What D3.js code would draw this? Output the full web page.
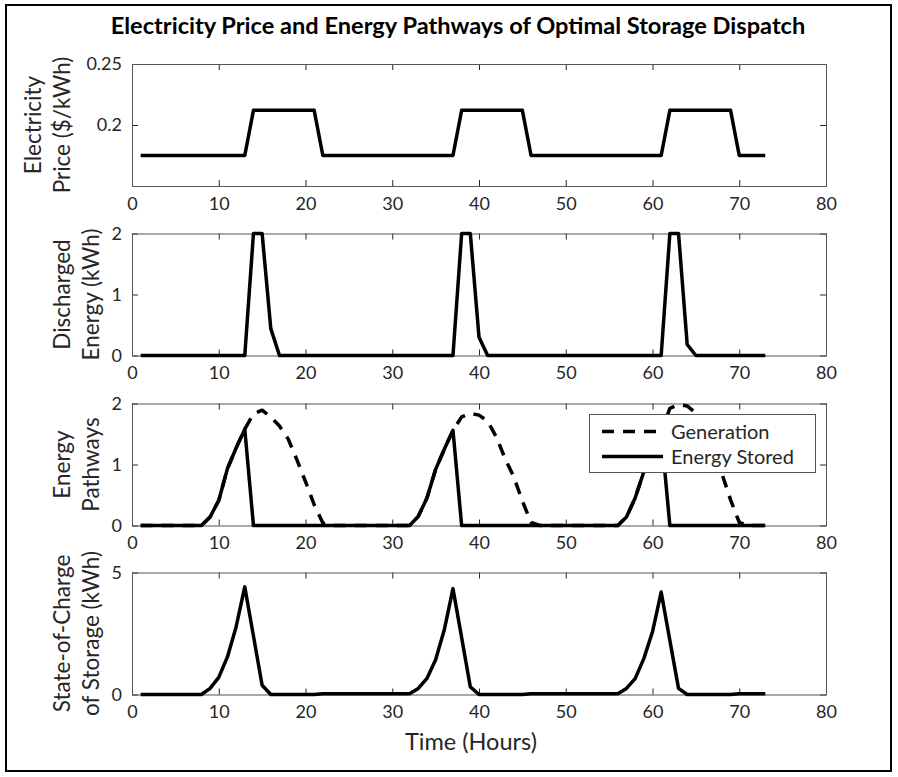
<!DOCTYPE html>
<html>
<head>
<meta charset="utf-8">
<script src="https://cdn.jsdelivr.net/npm/d3@7"></script>
<style>
  html, body { margin: 0; padding: 0; background: #fff; }
  svg text { font-family: Lato, "Open Sans", sans-serif; fill: #262626; }
</style>
</head>
<body>
<svg id="chart" width="898" height="777"></svg>
<script>
// Hour index of the simulation (1..73)
const hours = d3.range(1, 74);

// Electricity price ($/kWh)
const price = [
  0.175,0.175,0.175,0.175,0.175,0.175,0.175,0.175,0.175,0.175,0.175,0.175,0.175,
  0.212,0.212,0.212,0.212,0.212,0.212,0.212,0.212,
  0.175,0.175,0.175,0.175,0.175,0.175,0.175,0.175,0.175,0.175,0.175,0.175,0.175,0.175,0.175,0.175,
  0.212,0.212,0.212,0.212,0.212,0.212,0.212,0.212,
  0.175,0.175,0.175,0.175,0.175,0.175,0.175,0.175,0.175,0.175,0.175,0.175,0.175,0.175,0.175,0.175,
  0.212,0.212,0.212,0.212,0.212,0.212,0.212,0.212,
  0.175,0.175,0.175,0.175
];

// Energy discharged from storage (kWh)
const discharged = [
  0,0,0,0,0,0,0,0,0,0,0,0,0,
  2,2,0.44,
  0,0,0,0,0,0,0,0,0,0,0,0,0,0,0,0,0,0,0,0,0,
  2,2,0.3,
  0,0,0,0,0,0,0,0,0,0,0,0,0,0,0,0,0,0,0,0,0,
  2,2,0.18,
  0,0,0,0,0,0,0,0,0
];

// Solar generation (kWh)
const generation = [
  0,0,0,0,0,0,0,0,
  0.14,0.41,0.93,1.27,1.58,1.83,1.89,1.78,1.63,1.42,1.08,0.72,0.34,0.04,
  0,0,0,0,0,0,0,0,0,0,
  0.15,0.45,0.92,1.25,1.56,1.78,1.84,1.81,1.71,1.45,1.1,0.8,0.4,0.05,
  0,0,0,0,0,0,0,0,0,0,
  0.14,0.45,0.88,1.22,1.53,1.92,1.98,1.96,1.84,1.6,1.25,0.85,0.42,0.05,
  0,0,0
];

// Energy sent into storage (kWh)
const stored = [
  0,0,0,0,0,0,0,0,
  0.14,0.41,0.93,1.27,1.58,
  0,0,0,0,0,0,0,0,0,0,0,0,0,0,0,0,0,0,0,
  0.15,0.45,0.92,1.25,1.56,
  0,0,0,0,0,0,0,0,0,0,0,0,0,0,0,0,0,0,0,
  0.14,0.45,0.88,1.22,1.53,
  0,0,0,0,0,0,0,0,0,0,0,0
];

// Storage state of charge (kWh)
const stateOfCharge = [
  0,0,0,0,0,0,0,0,
  0.25,0.7,1.54,2.77,4.41,2.4,0.38,
  0,0,0,0,0,0,
  0.03,0.03,0.03,0.03,0.03,0.03,0.03,0.03,0.03,0.03,0.03,
  0.25,0.66,1.42,2.65,4.34,2.33,0.31,
  0,0,0,0,0,0,
  0.03,0.03,0.03,0.03,0.03,0.03,0.03,0.03,0.03,0.03,0.03,
  0.25,0.65,1.47,2.57,4.2,2.22,0.25,
  0,0,0,0,0,0,
  0.03,0.03,0.03,0.03
];

const xTicks = [0, 10, 20, 30, 40, 50, 60, 70, 80];
const priceTicks = [0.2, 0.25];
const priceTickLabels = ["0.2", "0.25"];
const dischargeTicks = [0, 1, 2];
const pathwayTicks = [0, 1, 2];
const socTicks = [0, 5];

const titleText = "Electricity Price and Energy Pathways of Optimal Storage Dispatch";
const xLabelText = "Time (Hours)";
const legendLabels = ["Generation", "Energy Stored"];

// ---------------------------------------------------------------
const svg = d3.select("#chart");
svg.append("rect").attr("width", 898).attr("height", 777).attr("fill", "#fff");

// Figure frame
svg.append("rect")
  .attr("x", 6).attr("y", 5).attr("width", 885).attr("height", 766)
  .attr("fill", "none").attr("stroke", "#000").attr("stroke-width", 2);

svg.append("text")
  .attr("x", 458).attr("y", 34)
  .attr("text-anchor", "middle")
  .attr("font-size", 23.6).attr("font-weight", 700)
  .style("fill", "#000")
  .text(titleText);

const x = d3.scaleLinear().domain([0, 80]).range([132, 826]);
const panelH = 122;
const DASH = "12,9";

const panels = [
  { top: 64, domain: [0.15, 0.25], ticks: priceTicks,
    fmt: (d, i) => priceTickLabels[i],
    label: ["Electricity", "Price ($/kWh)"], labelX: [33, 62],
    series: [{ values: price }] },
  { top: 233.5, domain: [0, 2], ticks: dischargeTicks, fmt: d3.format("d"),
    label: ["Discharged", "Energy (kWh)"], labelX: [62, 91],
    series: [{ values: discharged }] },
  { top: 403.5, domain: [0, 2], ticks: pathwayTicks, fmt: d3.format("d"),
    label: ["Energy", "Pathways"], labelX: [62, 91],
    series: [{ values: generation, dash: DASH }, { values: stored }],
    legend: true },
  { top: 572.5, domain: [0, 5], ticks: socTicks, fmt: d3.format("d"),
    label: ["State-of-Charge", "of Storage (kWh)"], labelX: [62, 91],
    series: [{ values: stateOfCharge }] }
];

panels.forEach(p => {
  const y = d3.scaleLinear().domain(p.domain).range([p.top + panelH, p.top]);
  const g = svg.append("g");

  // Axes: ticks point inward on all four sides
  const styleAxis = sel => {
    sel.select(".domain").remove();
    sel.selectAll(".tick line").attr("stroke", "#262626").attr("stroke-width", 1);
    sel.selectAll(".tick text").attr("font-size", 18).attr("fill", "#262626");
  };
  g.append("g").attr("transform", `translate(0,${p.top + panelH})`)
    .call(d3.axisBottom(x).tickValues(xTicks).tickSize(-6).tickSizeOuter(0)
      .tickPadding(11).tickFormat(d3.format("d")))
    .call(styleAxis);
  g.append("g").attr("transform", `translate(0,${p.top})`)
    .call(d3.axisTop(x).tickValues(xTicks).tickSize(-6).tickSizeOuter(0).tickFormat(""))
    .call(styleAxis);
  g.append("g").attr("transform", `translate(${x.range()[0]},0)`)
    .call(d3.axisLeft(y).tickValues(p.ticks).tickSize(-6).tickSizeOuter(0)
      .tickPadding(10).tickFormat(p.fmt))
    .call(styleAxis);
  g.append("g").attr("transform", `translate(${x.range()[1]},0)`)
    .call(d3.axisRight(y).tickValues(p.ticks).tickSize(-6).tickSizeOuter(0).tickFormat(""))
    .call(styleAxis);

  // Axes box
  g.append("rect")
    .attr("x", x.range()[0] + 0.5).attr("y", p.top + 0.5)
    .attr("width", x.range()[1] - x.range()[0]).attr("height", panelH)
    .attr("fill", "none").attr("stroke", "#555").attr("stroke-width", 1);

  // Y label (two lines)
  p.label.forEach((t, i) => {
    g.append("text")
      .attr("transform", `translate(${p.labelX[i]},${p.top + panelH / 2}) rotate(-90)`)
      .attr("text-anchor", "middle").attr("dy", "0.35em")
      .attr("font-size", 22.5)
      .text(t);
  });

  // Data lines
  const line = d3.line().x((d, i) => x(hours[i])).y(d => y(d));
  p.series.forEach(s => {
    g.append("path")
      .datum(s.values)
      .attr("d", line)
      .attr("fill", "none").attr("stroke", "#000").attr("stroke-width", 3.5)
      .attr("stroke-linejoin", "round")
      .attr("stroke-dasharray", s.dash || null);
  });

  if (p.legend) {
    const lg = g.append("g");
    lg.append("rect")
      .attr("x", 589.5).attr("y", 414.5).attr("width", 226).attr("height", 58)
      .attr("fill", "#fff").attr("stroke", "#555").attr("stroke-width", 1);
    const rows = [{ y: 431.5, dash: DASH }, { y: 456.5, dash: null }];
    rows.forEach((r, i) => {
      lg.append("line")
        .attr("x1", 602).attr("x2", 663).attr("y1", r.y).attr("y2", r.y)
        .attr("stroke", "#000").attr("stroke-width", 3.5)
        .attr("stroke-dasharray", r.dash);
      lg.append("text")
        .attr("x", 671).attr("y", r.y).attr("dy", "0.35em")
        .attr("font-size", 20)
        .text(legendLabels[i]);
    });
  }
});

svg.append("text")
  .attr("x", 471).attr("y", 742).attr("dy", "0.35em")
  .attr("text-anchor", "middle").attr("font-size", 23.5)
  .text(xLabelText);
</script>
</body>
</html>
